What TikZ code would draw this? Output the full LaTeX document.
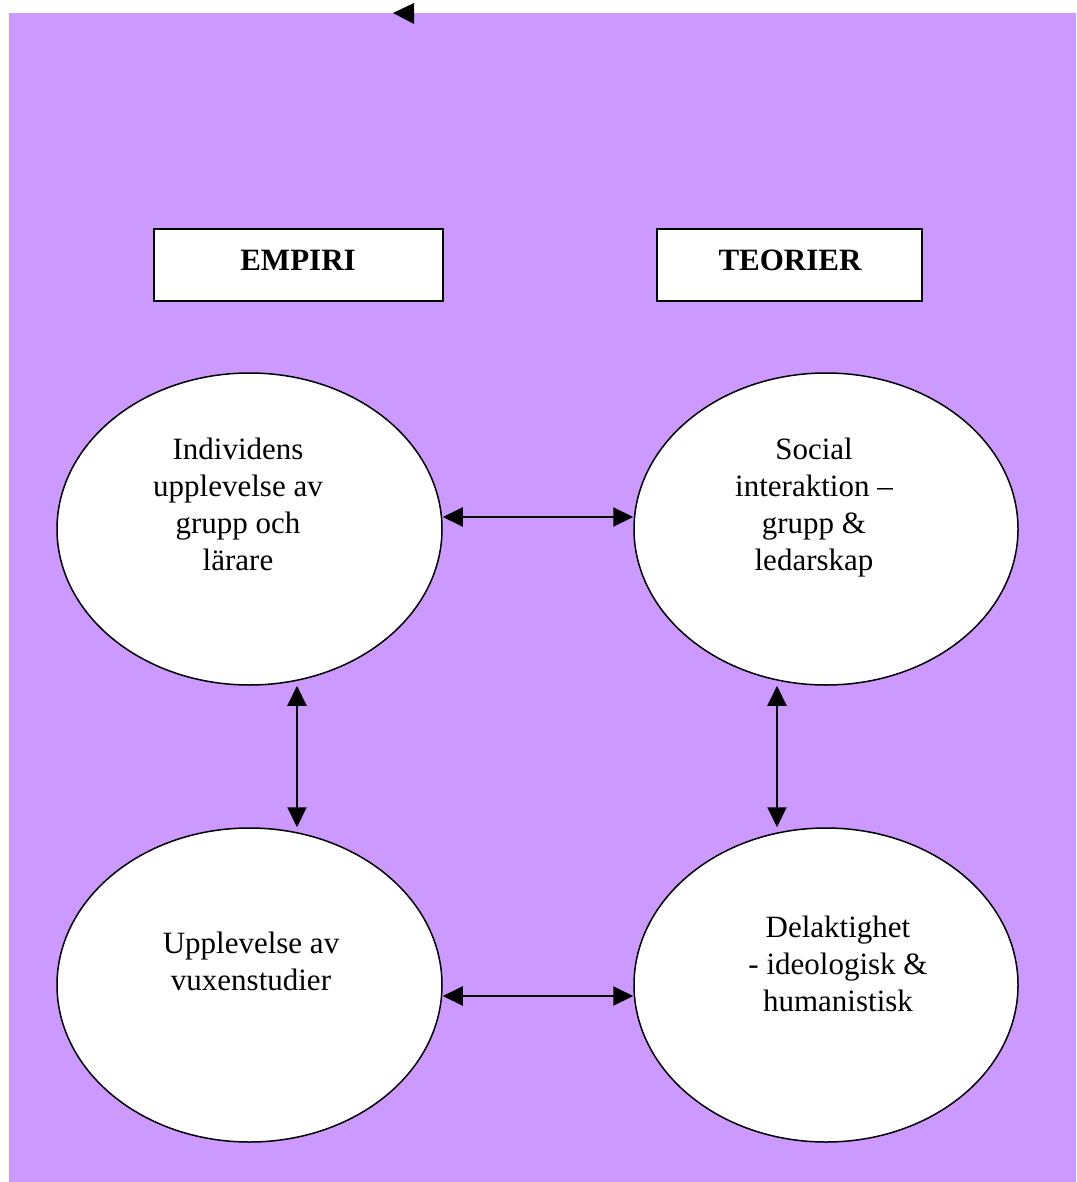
\documentclass[tikz,border=0pt]{standalone}
\usepackage{fontspec}
\setmainfont{Liberation Serif}
\usetikzlibrary{shapes.geometric,arrows.meta}
\definecolor{bgpurple}{RGB}{204,153,255}
\begin{document}
\begin{tikzpicture}[x=1pt,y=-1pt,
  bubble/.style={ellipse,draw=black,line width=1.5pt,fill=white,inner sep=0pt},
  headbox/.style={rectangle,draw=black,line width=1.5pt,fill=white,inner sep=0pt,minimum height=72pt},
  txt/.style={anchor=base,inner sep=0pt,font=\fontsize{31}{37}\selectfont},
  headtxt/.style={anchor=base,inner sep=0pt,font=\fontsize{31}{37}\selectfont\bfseries},
  link/.style={line width=2pt,{Triangle[length=20pt,width=19pt]}-{Triangle[length=20pt,width=19pt]}}
]
\useasboundingbox (0,0) rectangle (1076,1182);
\fill[bgpurple] (9,13) rectangle (1076,1182);
% small triangle at top
\fill[black] (393,13) -- (414,3) -- (414,24) -- cycle;

% header boxes
\node[headbox,minimum width=289pt] (empiri) at (298.5,265) {};
\node[headbox,minimum width=265pt] (teorier) at (789.5,265) {};
\node[headtxt] (empiriT) at (298,270) {EMPIRI};
\node[headtxt] (teorierT) at (790,270) {TEORIER};

% ellipses
\node[bubble,minimum width=385pt,minimum height=312pt] (e1) at (249.5,529) {};
\node[bubble,minimum width=384pt,minimum height=312pt] (e2) at (826,529) {};
\node[bubble,minimum width=385pt,minimum height=314pt] (e3) at (249.5,985) {};
\node[bubble,minimum width=384pt,minimum height=314pt] (e4) at (826,985) {};

% texts
\node[txt] (t1) at (238,459) {\begin{tabular}[t]{@{}c@{}}Individens\\upplevelse av\\grupp och\\lärare\end{tabular}};
\node[txt] (t2) at (814,459) {\begin{tabular}[t]{@{}c@{}}Social\\interaktion –\\grupp \&\\ledarskap\end{tabular}};
\node[txt] (t3) at (251,953) {\begin{tabular}[t]{@{}c@{}}Upplevelse av\\vuxenstudier\end{tabular}};
\node[txt] (t4) at (838,937) {\begin{tabular}[t]{@{}c@{}}Delaktighet\\- ideologisk \&\\humanistisk\end{tabular}};

% connectors
\draw[link] ([yshift=12pt]e1.east) -- ([yshift=12pt]e2.west);
\draw[link] ([yshift=-11pt]e3.east) -- ([yshift=-11pt]e4.west);
\draw[link] ([xshift=47.5pt]e1.south) -- ([xshift=47.5pt]e3.north);
\draw[link] ([xshift=-49pt]e2.south) -- ([xshift=-49pt]e4.north);
\end{tikzpicture}
\end{document}
